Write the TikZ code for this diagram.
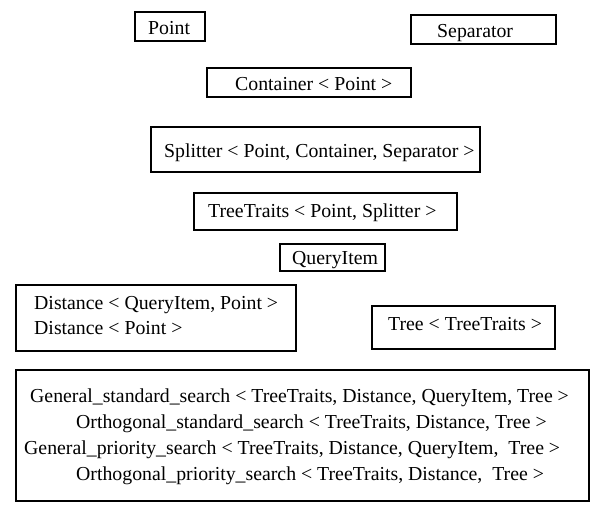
\documentclass[tikz,border=0pt]{standalone}
\usepackage{fontspec}
\setmainfont{Liberation Serif}
\begin{document}
\begin{tikzpicture}[x=1pt,y=-1pt,
  boxline/.style={draw=black, line width=1.6pt},
  lbl/.style={anchor=base west, inner sep=0pt, font=\fontsize{19.8}{23}\selectfont}]
\useasboundingbox (0,0) rectangle (600,515);
% boxes
\draw[boxline] (135,12) rectangle (205,41);
\draw[boxline] (411,15) rectangle (556,44);
\draw[boxline] (207,68) rectangle (411,97);
\draw[boxline] (151,127) rectangle (480,172);
\draw[boxline] (194,193) rectangle (457,230);
\draw[boxline] (280,244) rectangle (385,271);
\draw[boxline] (16,285) rectangle (296,351);
\draw[boxline] (372,306) rectangle (555,349);
\draw[boxline] (16,370) rectangle (589,501);
% texts
\node[lbl] (point) at (148,34) {Point};
\node[lbl] (sep) at (437,37) {Separator};
\node[lbl] (cont) at (235,90) {Container < Point >};
\node[lbl] (split) at (164,157) {Splitter < Point, Container, Separator >};
\node[lbl] (traits) at (208,217) {TreeTraits < Point, Splitter >};
\node[lbl] (qi) at (292,264) {QueryItem};
\node[lbl] (dist1) at (34,309) {Distance < QueryItem, Point >};
\node[lbl] (dist2) at (34,334) {Distance < Point >};
\node[lbl] (tree) at (388,330) {Tree < TreeTraits >};
\node[lbl] (gss) at (30,402) {General\_standard\_search < TreeTraits, Distance, QueryItem, Tree >};
\node[lbl] (oss) at (76,428) {Orthogonal\_standard\_search < TreeTraits, Distance, Tree >};
\node[lbl] (gps) at (24,454) {General\_priority\_search < TreeTraits, Distance, QueryItem,\ \ Tree >};
\node[lbl] (ops) at (76,480) {Orthogonal\_priority\_search < TreeTraits, Distance,\ \ Tree >};
\end{tikzpicture}
\end{document}
